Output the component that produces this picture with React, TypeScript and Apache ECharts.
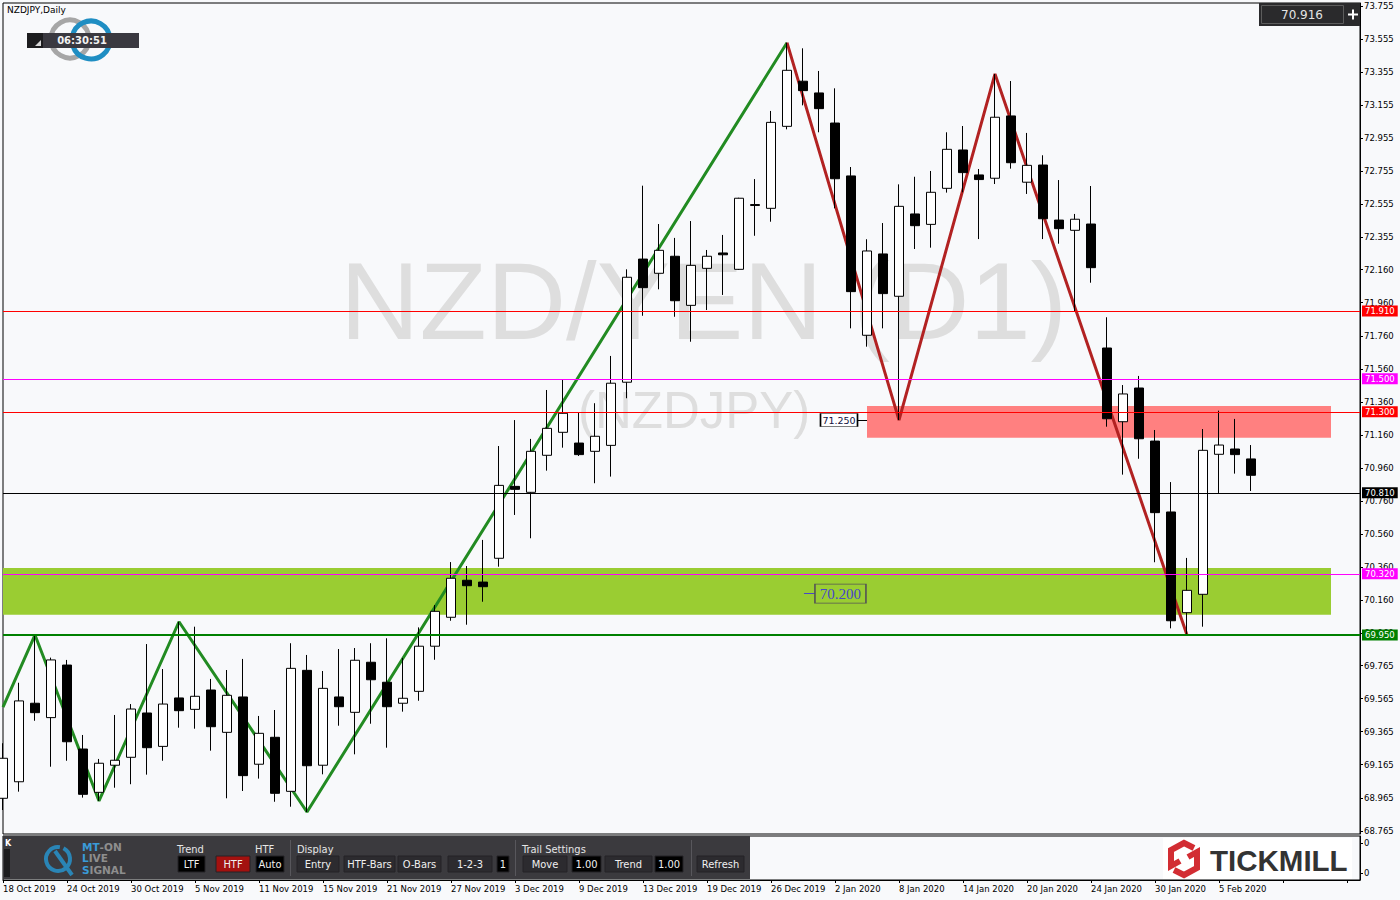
import React, { useEffect, useRef } from 'react';
import * as echarts from 'echarts';

// ---------- data ----------
const dates = [
  '18 Oct 2019', '21 Oct 2019', '22 Oct 2019', '23 Oct 2019', '24 Oct 2019', '25 Oct 2019', '28 Oct 2019', '29 Oct 2019', '30 Oct 2019', '31 Oct 2019',
  '1 Nov 2019', '4 Nov 2019', '5 Nov 2019', '6 Nov 2019', '7 Nov 2019', '8 Nov 2019', '11 Nov 2019', '12 Nov 2019', '13 Nov 2019', '14 Nov 2019',
  '15 Nov 2019', '18 Nov 2019', '19 Nov 2019', '20 Nov 2019', '21 Nov 2019', '22 Nov 2019', '25 Nov 2019', '26 Nov 2019', '27 Nov 2019', '28 Nov 2019',
  '29 Nov 2019', '2 Dec 2019', '3 Dec 2019', '4 Dec 2019', '5 Dec 2019', '6 Dec 2019', '9 Dec 2019', '10 Dec 2019', '11 Dec 2019', '12 Dec 2019',
  '13 Dec 2019', '16 Dec 2019', '17 Dec 2019', '18 Dec 2019', '19 Dec 2019', '20 Dec 2019', '23 Dec 2019', '24 Dec 2019', '26 Dec 2019', '27 Dec 2019',
  '30 Dec 2019', '31 Dec 2019', '2 Jan 2020', '3 Jan 2020', '6 Jan 2020', '7 Jan 2020', '8 Jan 2020', '9 Jan 2020', '10 Jan 2020', '13 Jan 2020',
  '14 Jan 2020', '15 Jan 2020', '16 Jan 2020', '17 Jan 2020', '20 Jan 2020', '21 Jan 2020', '22 Jan 2020', '23 Jan 2020', '24 Jan 2020', '27 Jan 2020',
  '28 Jan 2020', '29 Jan 2020', '30 Jan 2020', '31 Jan 2020', '3 Feb 2020', '4 Feb 2020', '5 Feb 2020', '6 Feb 2020', '7 Feb 2020',
];

const opens = [
  68.962, 69.062, 69.537, 69.450, 69.768, 69.260, 68.998, 69.162, 69.210, 69.478,
  69.276, 69.569, 69.500, 69.617, 69.361, 69.575, 69.168, 69.331, 69.004, 69.736,
  69.162, 69.575, 69.482, 69.785, 69.664, 69.537, 69.609, 69.882, 70.057, 70.281,
  70.270, 70.414, 70.849, 70.813, 71.037, 71.176, 71.111, 71.061, 71.097, 71.479,
  72.224, 72.138, 72.241, 71.944, 72.168, 72.261, 72.162, 72.548, 72.531, 73.027,
  73.300, 73.229, 73.047, 72.727, 71.763, 72.255, 71.999, 72.497, 72.434, 72.652,
  72.884, 72.733, 72.713, 73.090, 72.689, 72.793, 72.460, 72.398, 72.436, 71.686,
  71.240, 71.444, 71.123, 70.694, 70.085, 70.196, 71.043, 71.075, 71.015,
];
const closes = [
  69.204, 69.551, 69.480, 69.799, 69.304, 68.986, 69.174, 69.192, 69.502, 69.268,
  69.532, 69.492, 69.579, 69.395, 69.585, 69.099, 69.355, 68.992, 69.748, 69.159,
  69.627, 69.516, 69.797, 69.679, 69.516, 69.567, 69.882, 70.093, 70.293, 70.248,
  70.242, 70.855, 70.831, 71.061, 71.200, 71.291, 71.041, 71.152, 71.473, 72.114,
  72.051, 72.277, 71.972, 72.186, 72.241, 72.250, 72.592, 72.554, 73.051, 73.366,
  73.243, 73.134, 72.710, 72.027, 72.273, 72.015, 72.543, 72.426, 72.628, 72.888,
  72.747, 72.705, 73.082, 72.807, 72.791, 72.468, 72.408, 72.465, 72.172, 71.258,
  71.408, 71.137, 70.690, 70.036, 70.220, 71.067, 71.099, 71.041, 70.916,
];
const lows = [
  68.891, 69.002, 69.431, 69.153, 69.189, 68.966, 68.946, 69.026, 69.047, 69.105,
  69.189, 69.389, 69.383, 69.250, 68.962, 69.006, 69.081, 68.941, 68.911, 68.879,
  69.107, 69.401, 69.228, 69.413, 69.268, 69.486, 69.552, 69.800, 70.036, 70.012,
  70.151, 70.363, 70.676, 70.535, 70.944, 71.083, 71.033, 70.868, 70.908, 71.382,
  71.881, 72.041, 71.875, 71.724, 71.916, 72.007, 72.158, 72.365, 72.450, 73.009,
  73.154, 72.991, 72.531, 71.805, 71.694, 71.805, 71.250, 72.285, 72.293, 72.626,
  72.628, 72.345, 72.678, 72.771, 72.618, 72.345, 72.317, 71.906, 72.081, 71.210,
  70.920, 71.016, 70.390, 69.990, 69.950, 70.000, 70.809, 70.926, 70.821,
];
const highs = [
  69.295, 69.661, 69.950, 69.813, 69.799, 69.345, 69.200, 69.466, 69.532, 69.895,
  69.744, 70.030, 70.000, 69.684, 69.738, 69.805, 69.460, 69.496, 69.900, 69.829,
  69.732, 69.865, 69.871, 69.900, 69.930, 69.811, 69.996, 70.131, 70.391, 70.367,
  70.525, 71.093, 71.250, 71.136, 71.432, 71.493, 71.295, 71.352, 71.638, 72.162,
  72.668, 72.436, 72.352, 72.454, 72.279, 72.370, 72.595, 72.708, 73.120, 73.533,
  73.499, 73.362, 73.257, 72.781, 72.344, 72.442, 72.676, 72.722, 72.757, 72.991,
  73.029, 72.769, 73.344, 73.301, 72.987, 72.852, 72.702, 72.497, 72.666, 71.872,
  71.462, 71.517, 71.190, 70.875, 70.416, 71.196, 71.307, 71.257, 71.099,
];

// zigzag swing points (bar index, price)
const zigUpIdx = [0, 2, 6, 11, 19, 49];
const zigUpPrice = [69.514, 69.950, 68.946, 70.030, 68.879, 73.533];
const zigDownIdx = [49, 56, 62, 74];
const zigDownPrice = [73.533, 71.250, 73.344, 69.950];

// horizontal levels
const levelPrices = [71.910, 71.500, 71.300, 70.810, 70.320, 69.950];
const levelColors = ['#ff0000', '#ff00ff', '#ff0000', '#000000', '#ff00ff', '#008000'];
const levelWidths = [1, 1, 1, 1, 1, 2];

// zones [fromIdx, toIdx, top, bottom]
const greenZone = [0, 83, 70.355, 70.073];
const pinkZone = [54, 83, 71.335, 71.143];

// annotations
const swingLowLabel = { idx: 52.25, price: 71.25, text: '71.250' };
const zoneLabel = { idx: 52.34, price: 70.2, text: '70.200' };

const yTickLabels = [
  73.755, 73.555, 73.355, 73.155, 72.955, 72.755, 72.555, 72.355, 72.160, 71.960,
  71.760, 71.560, 71.360, 71.160, 70.960, 70.760, 70.560, 70.360, 70.160, 69.960,
  69.765, 69.565, 69.365, 69.165, 68.965, 68.765,
];
const currentPrice = '70.916';

// ---------- layout ----------
const X_MAX = 1357 / 16;
const Y_MAX = 73.755 + 3 / 165.3;
const Y_MIN = 73.755 - 828 / 165.3;
const AXIS_FONT = 'DejaVu Sans';
const PANEL_FONT = "'DejaVu Sans Condensed', 'DejaVu Sans', sans-serif";

type Btn = { x: number; w: number; t: string; bg: string };
const buttons: Btn[] = [
  { x: 178, w: 27, t: 'LTF', bg: '#000000' },
  { x: 216, w: 34, t: 'HTF', bg: '#a3110f' },
  { x: 256, w: 28, t: 'Auto', bg: '#000000' },
  { x: 297, w: 42, t: 'Entry', bg: '#2c2b2f' },
  { x: 344, w: 51, t: 'HTF-Bars', bg: '#2c2b2f' },
  { x: 398, w: 43, t: 'O-Bars', bg: '#2c2b2f' },
  { x: 448, w: 44, t: '1-2-3', bg: '#2c2b2f' },
  { x: 497, w: 12, t: '1', bg: '#000000' },
  { x: 523, w: 44, t: 'Move', bg: '#2c2b2f' },
  { x: 572, w: 29, t: '1.00', bg: '#000000' },
  { x: 605, w: 47, t: 'Trend', bg: '#2c2b2f' },
  { x: 655, w: 28, t: '1.00', bg: '#000000' },
  { x: 697, w: 47, t: 'Refresh', bg: '#2c2b2f' },
];
const headers = [
  { x: 177, t: 'Trend' },
  { x: 255, t: 'HTF' },
  { x: 297, t: 'Display' },
  { x: 522, t: 'Trail Settings' },
];

function buildGraphic(): any[] {
  const g: any[] = [];
  // watermark
  g.push({ type: 'text', x: 340, y: 300, z: 0, silent: true,
    style: { text: 'NZD/YEN (D1)', fontSize: 110, fontFamily: 'Liberation Sans', fill: '#dedede', verticalAlign: 'middle' } });
  g.push({ type: 'text', x: 578, y: 410, z: 0, silent: true,
    style: { text: '(NZDJPY)', fontSize: 51, fontFamily: 'Liberation Sans', fill: '#dedede', verticalAlign: 'middle' } });

  // top-left title and logo
  g.push({ type: 'text', x: 7, y: 10, z: 100, style: { text: 'NZDJPY,Daily', fontSize: 9, fontFamily: AXIS_FONT, fill: '#000', verticalAlign: 'middle' } });
  g.push({ type: 'circle', z: 100, shape: { cx: 70, cy: 39, r: 19 }, style: { fill: 'none', stroke: '#a6a6a6', lineWidth: 5 } });
  g.push({ type: 'arc', z: 101, shape: { cx: 91, cy: 40, r: 19, startAngle: -Math.PI * 0.95, endAngle: Math.PI * 0.9, clockwise: true }, style: { fill: 'none', stroke: '#1f8ec3', lineWidth: 5 } });
  g.push({ type: 'rect', z: 102, shape: { x: 27, y: 33, width: 112, height: 15 }, style: { fill: '#3a3940' } });
  g.push({ type: 'rect', z: 103, shape: { x: 27, y: 33, width: 16, height: 15 }, style: { fill: '#1d1d1f' } });
  g.push({ type: 'polygon', z: 104, shape: { points: [[35, 46], [41, 46], [41, 40]] }, style: { fill: '#d8d8d8' } });
  g.push({ type: 'text', x: 82, y: 40.5, z: 104, style: { text: '06:30:51', fontSize: 10, fontWeight: 'bold', fontFamily: AXIS_FONT, fill: '#f2f2f2', align: 'center', verticalAlign: 'middle' } });

  // top-right price box
  g.push({ type: 'rect', z: 100, shape: { x: 1259, y: 3, width: 101, height: 23 }, style: { fill: '#2a2a2c' } });
  g.push({ type: 'rect', z: 101, shape: { x: 1261.5, y: 5.5, width: 82, height: 18 }, style: { fill: '#2a2a2c', stroke: '#5c5c5c', lineWidth: 1 } });
  g.push({ type: 'text', x: 1302, y: 14.5, z: 102, style: { text: currentPrice, fontSize: 12, fontFamily: AXIS_FONT, fill: '#e4e4e4', align: 'center', verticalAlign: 'middle' } });
  g.push({ type: 'rect', z: 102, shape: { x: 1348, y: 13.5, width: 10, height: 2 }, style: { fill: '#ffffff' } });
  g.push({ type: 'rect', z: 102, shape: { x: 1352, y: 9.5, width: 2, height: 10 }, style: { fill: '#ffffff' } });

  // bottom panel
  g.push({ type: 'rect', z: 100, shape: { x: 3, y: 836, width: 747, height: 43 }, style: { fill: '#3b3a3e' } });
  g.push({ type: 'rect', z: 101, shape: { x: 4, y: 849, width: 6, height: 28 }, style: { fill: '#1c1c1e' } });
  g.push({ type: 'text', x: 5, y: 843, z: 102, style: { text: 'K', fontSize: 8, fontWeight: 'bold', fontFamily: AXIS_FONT, fill: '#ffffff', verticalAlign: 'middle' } });
  // MT-ON logo
  g.push({ type: 'arc', z: 101, shape: { cx: 58, cy: 859, r: 12, startAngle: -Math.PI * 0.35, endAngle: Math.PI * 1.55, clockwise: true }, style: { fill: 'none', stroke: '#2a85b6', lineWidth: 4 } });
  g.push({ type: 'line', z: 101, shape: { x1: 55, y1: 851, x2: 72, y2: 875 }, style: { stroke: '#2a85b6', lineWidth: 4 } });
  const logoRows: [string, string, number][] = [['MT', '-ON', 846.5], ['L', 'IVE', 858], ['S', 'IGNAL', 869.5]];
  logoRows.forEach(([a, b, y]) => {
    g.push({ type: 'text', x: 82, y, z: 102, style: {
      text: `{a|${a}}{b|${b}}`, verticalAlign: 'middle',
      rich: {
        a: { fill: '#3a9ad8', fontSize: 10.5, fontWeight: 'bold', fontFamily: AXIS_FONT, lineHeight: 10 },
        b: { fill: '#8e8e8e', fontSize: 10.5, fontWeight: 'bold', fontFamily: AXIS_FONT, lineHeight: 10 },
      },
    } });
  });
  headers.forEach((h) => {
    g.push({ type: 'text', x: h.x, y: 849, z: 102, style: { text: h.t, fontSize: 11, fontFamily: PANEL_FONT, fill: '#e6e6e6', verticalAlign: 'middle' } });
  });
  [290, 515, 691].forEach((x) => {
    g.push({ type: 'line', z: 101, shape: { x1: x + 0.5, y1: 840, x2: x + 0.5, y2: 876 }, style: { stroke: '#58575c', lineWidth: 1 } });
  });
  buttons.forEach((b) => {
    g.push({ type: 'rect', z: 101, shape: { x: b.x, y: 856, width: b.w, height: 16 }, style: { fill: b.bg, stroke: '#242326', lineWidth: 1 } });
    g.push({ type: 'text', x: b.x + b.w / 2, y: 864, z: 102, style: { text: b.t, fontSize: 11, fontFamily: PANEL_FONT, fill: '#f0f0f0', align: 'center', verticalAlign: 'middle' } });
  });

  // Tickmill logo
  g.push({ type: 'rect', z: 100, shape: { x: 1163, y: 838, width: 189, height: 41 }, style: { fill: '#ffffff' } });
  g.push({ type: 'polyline', z: 101, shape: { points: [[1194, 848], [1184, 843], [1171, 850], [1171, 866], [1180, 861]] }, style: { stroke: '#d22d33', lineWidth: 6, fill: 'none', lineJoin: 'miter' } });
  g.push({ type: 'polyline', z: 101, shape: { points: [[1174, 870], [1184, 875], [1197, 868], [1197, 852], [1188, 857]] }, style: { stroke: '#d22d33', lineWidth: 6, fill: 'none', lineJoin: 'miter' } });
  g.push({ type: 'text', x: 1210, y: 860, z: 101, style: { text: 'TICKMILL', fontSize: 29.5, fontWeight: 'bold', fontFamily: 'Liberation Sans', fill: '#333333', verticalAlign: 'middle' } });
  return g;
}

function buildOption(): any {
  const candleData = dates.map((_, i) => [i, opens[i], closes[i], lows[i], highs[i]]);
  return {
    animation: false,
    backgroundColor: '#f8f9fb',
    textStyle: { fontFamily: AXIS_FONT },
    grid: [
      { left: 3, top: 3, width: 1357, height: 831, show: true, borderColor: '#000', borderWidth: 1, backgroundColor: 'transparent' },
      { left: 3, top: 836, width: 1357, height: 44, show: true, borderColor: '#000', borderWidth: 1, backgroundColor: 'transparent' },
    ],
    xAxis: [
      { type: 'value', gridIndex: 0, min: 0, max: X_MAX, show: false, axisLine: { onZero: false } },
      {
        type: 'value', gridIndex: 1, min: 0, max: X_MAX, interval: 4,
        axisLine: { show: true, onZero: false, lineStyle: { color: '#000' } },
        axisTick: { show: true, length: 3, lineStyle: { color: '#000' } },
        splitLine: { show: false },
        axisLabel: {
          formatter: (v: number) => (Number.isInteger(v) && dates[v] ? dates[v] : ''),
          align: 'left', color: '#000', fontSize: 8.5, fontFamily: AXIS_FONT, margin: 4,
          showMaxLabel: false,
        },
      },
    ],
    yAxis: [
      {
        type: 'value', gridIndex: 0, position: 'right', min: Y_MIN, max: Y_MAX,
        axisLine: { show: true, onZero: false, lineStyle: { color: '#000' } },
        axisTick: { show: true, length: 3, customValues: yTickLabels, lineStyle: { color: '#000' } },
        axisLabel: { customValues: yTickLabels, formatter: (v: number) => v.toFixed(3), color: '#000', fontSize: 8.5, fontFamily: AXIS_FONT, margin: 4 },
        splitLine: { show: false },
      },
      {
        type: 'value', gridIndex: 1, position: 'right', min: -0.233, max: 1.233,
        axisLine: { show: true, onZero: false, lineStyle: { color: '#000' } },
        axisTick: { show: true, length: 3, customValues: [0, 1], lineStyle: { color: '#000' } },
        axisLabel: { customValues: [0, 1], formatter: () => '0', color: '#000', fontSize: 8.5, fontFamily: AXIS_FONT, margin: 4 },
        splitLine: { show: false },
      },
    ],
    series: [
      {
        name: 'zones', type: 'line', xAxisIndex: 0, yAxisIndex: 0, data: [], z: 1, silent: true,
        markArea: {
          silent: true,
          data: [
            [{ xAxis: greenZone[0], yAxis: greenZone[2], itemStyle: { color: '#9acd32', opacity: 1 } }, { xAxis: greenZone[1], yAxis: greenZone[3] }],
            [{ xAxis: pinkZone[0], yAxis: pinkZone[2], itemStyle: { color: '#ff8080', opacity: 1 } }, { xAxis: pinkZone[1], yAxis: pinkZone[3] }],
          ],
        },
      },
      {
        name: 'levels', type: 'line', xAxisIndex: 0, yAxisIndex: 0, data: [], z: 2, silent: true,
        markLine: {
          silent: true, symbol: ['none', 'none'],
          data: levelPrices.map((p, i) => ({
            yAxis: p,
            lineStyle: { color: levelColors[i], width: levelWidths[i], type: 'solid', opacity: 1 },
            label: {
              show: true, position: 'end', formatter: p.toFixed(3), distance: 2,
              backgroundColor: levelColors[i], color: '#ffffff', padding: [1, 3, 0, 3],
              fontSize: 8.5, fontFamily: AXIS_FONT, lineHeight: 10,
            },
          })),
        },
      },
      {
        name: 'zigzag up', type: 'line', xAxisIndex: 0, yAxisIndex: 0, z: 2, symbol: 'none', silent: true,
        data: zigUpIdx.map((x, i) => [x, zigUpPrice[i]]),
        lineStyle: { color: '#228b22', width: 3 },
      },
      {
        name: 'zigzag down', type: 'line', xAxisIndex: 0, yAxisIndex: 0, z: 2, symbol: 'none', silent: true,
        data: zigDownIdx.map((x, i) => [x, zigDownPrice[i]]),
        lineStyle: { color: '#b22222', width: 3 },
      },
      {
        name: 'NZDJPY', type: 'candlestick', xAxisIndex: 0, yAxisIndex: 0, z: 3, silent: true,
        data: candleData,
        encode: { x: 0, y: [1, 2, 3, 4] },
        barWidth: 10,
        itemStyle: { color: '#ffffff', color0: '#000000', borderColor: '#000000', borderColor0: '#000000', borderWidth: 1 },
      },
      {
        name: 'notes', type: 'line', xAxisIndex: 0, yAxisIndex: 0, data: [], z: 4, silent: true,
        markLine: {
          silent: true, symbol: ['none', 'none'], label: { show: false },
          data: [
            [{ coord: [swingLowLabel.idx + 1.12, swingLowLabel.price], lineStyle: { color: '#000', width: 1, type: 'solid' } }, { coord: [swingLowLabel.idx + 1.75, swingLowLabel.price] }],
            [{ coord: [zoneLabel.idx - 2.28, zoneLabel.price], lineStyle: { color: '#4747c8', width: 1, type: 'solid' } }, { coord: [zoneLabel.idx - 1.6, zoneLabel.price] }],
          ],
        },
        markPoint: {
          silent: true,
          data: [
            {
              coord: [swingLowLabel.idx, swingLowLabel.price], symbol: 'rect', symbolSize: [37, 13],
              itemStyle: { color: '#ffffff', borderColor: '#000', borderWidth: 1 },
              label: { show: true, position: 'inside', formatter: swingLowLabel.text, color: '#101040', fontSize: 9.5, fontFamily: AXIS_FONT },
            },
            {
              coord: [zoneLabel.idx, zoneLabel.price], symbol: 'rect', symbolSize: [51, 19],
              itemStyle: { color: 'rgba(0,0,0,0)', borderColor: '#555', borderWidth: 1 },
              label: { show: true, position: 'inside', formatter: zoneLabel.text, color: '#4747c8', fontSize: 15, fontFamily: 'Liberation Serif' },
            },
          ],
        },
      },
    ],
    graphic: buildGraphic(),
  };
}

export default function App() {
  const ref = useRef<HTMLDivElement>(null);
  useEffect(() => {
    if (!ref.current) return;
    const chart = echarts.init(ref.current, undefined, { renderer: 'svg' });
    chart.setOption(buildOption());
    return () => chart.dispose();
  }, []);
  return <div ref={ref} style={{ position: 'fixed', left: 0, top: 0, width: 1400, height: 900 }} />;
}
